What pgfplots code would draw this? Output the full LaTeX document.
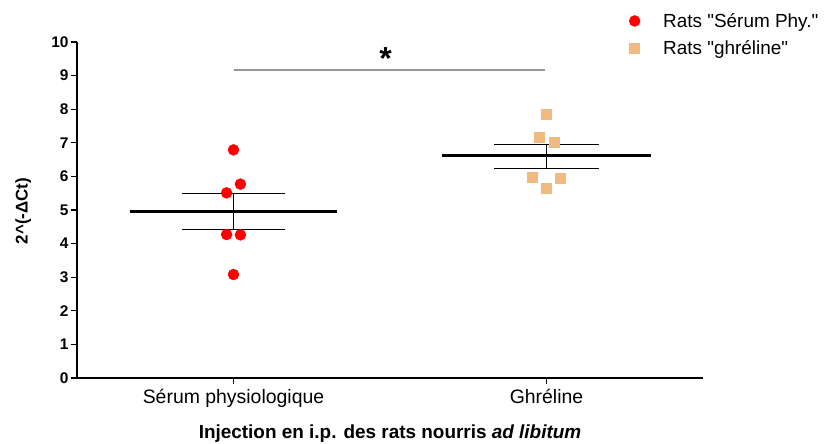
\documentclass[border=0pt]{standalone}
\usepackage{pgfplots}
\pgfplotsset{compat=1.18}
\usepackage{fontspec}
\setmainfont{Liberation Sans}
\definecolor{ghr}{RGB}{242,186,128}
\definecolor{sig}{RGB}{150,150,150}
\begin{document}
\begin{tikzpicture}
\path[use as bounding box] (-77bp,-66bp) rectangle (748bp,378bp);
\begin{axis}[
  scale only axis, width=626bp, height=336bp,
  xmin=-0.5, xmax=1.5, ymin=0, ymax=10,
  axis lines=left, axis line style={line width=1.6pt, -},
  clip=false,
  xtick={0,1}, xticklabels={Sérum physiologique, Ghréline},
  ytick={0,1,...,10},
  tick align=outside, major tick length=6bp,
  tick style={line width=1.2pt, black},
  /pgf/number format/assume math mode=true,
  yticklabel style={font=\fontsize{15.5}{17}\selectfont\bfseries, xshift=1bp},
  xticklabel style={font=\fontsize{19.5}{22}\selectfont, yshift=-2bp},
  ylabel={2\textasciicircum(-ΔCt)},
  xlabel={Injection en i.p. des rats nourris \textit{ad libitum}},
  every axis y label/.style={at={(axis description cs:-0.086,0.497)},rotate=90,anchor=center,font=\fontsize{17}{19}\selectfont\bfseries},
  every axis x label/.style={at={(axis description cs:0.5,-0.166)},anchor=center,font=\fontsize{19}{22}\selectfont\bfseries},
  legend style={at={(axis description cs:0.877,1.098)}, anchor=north west, draw=none, fill=none, font=\fontsize{19}{22}\selectfont, row sep=8bp, /tikz/every odd column/.append style={column sep=21bp}},
  legend cell align=left,
]
\addplot[only marks, mark=*, mark size=5.5bp, red, mark options={draw=red, fill=red}] coordinates {
 (0,6.79) (0.022,5.77) (-0.022,5.51) (-0.022,4.27) (0.022,4.26) (0,3.08)};
\addlegendentry{Rats \textquotedbl Sérum Phy.\textquotedbl}
\addplot[only marks, mark=square*, mark size=5bp, ghr, mark options={draw=ghr, fill=ghr}] coordinates {
 (1,7.86) (0.977,7.16) (1.023,7.03) (0.955,5.98) (1.045,5.94) (1,5.64)};
\addlegendentry{Rats \textquotedbl ghréline\textquotedbl}
% means
\addplot[forget plot, black, line width=3bp] coordinates {(-0.332,4.95) (0.332,4.95)};
\addplot[forget plot, black, line width=3bp] coordinates {(0.667,6.61) (1.333,6.61)};
% SEM
\addplot[forget plot, black, line width=1.4pt] coordinates {(-0.165,5.49) (0.165,5.49)};
\addplot[forget plot, black, line width=1.4pt] coordinates {(-0.165,4.42) (0.165,4.42)};
\addplot[forget plot, black, line width=0.8pt] coordinates {(0,4.42) (0,5.49)};
\addplot[forget plot, black, line width=1.4pt] coordinates {(0.833,6.95) (1.167,6.95)};
\addplot[forget plot, black, line width=1.4pt] coordinates {(0.833,6.24) (1.167,6.24)};
\addplot[forget plot, black, line width=0.8pt] coordinates {(1,6.24) (1,6.95)};
% significance
\addplot[forget plot, sig, line width=1.6pt] coordinates {(0,9.17) (0.994,9.17)};
\node[font=\fontsize{32}{34}\selectfont\bfseries] at (axis cs:0.486,9.5) {*};
\end{axis}
\end{tikzpicture}
\end{document}
